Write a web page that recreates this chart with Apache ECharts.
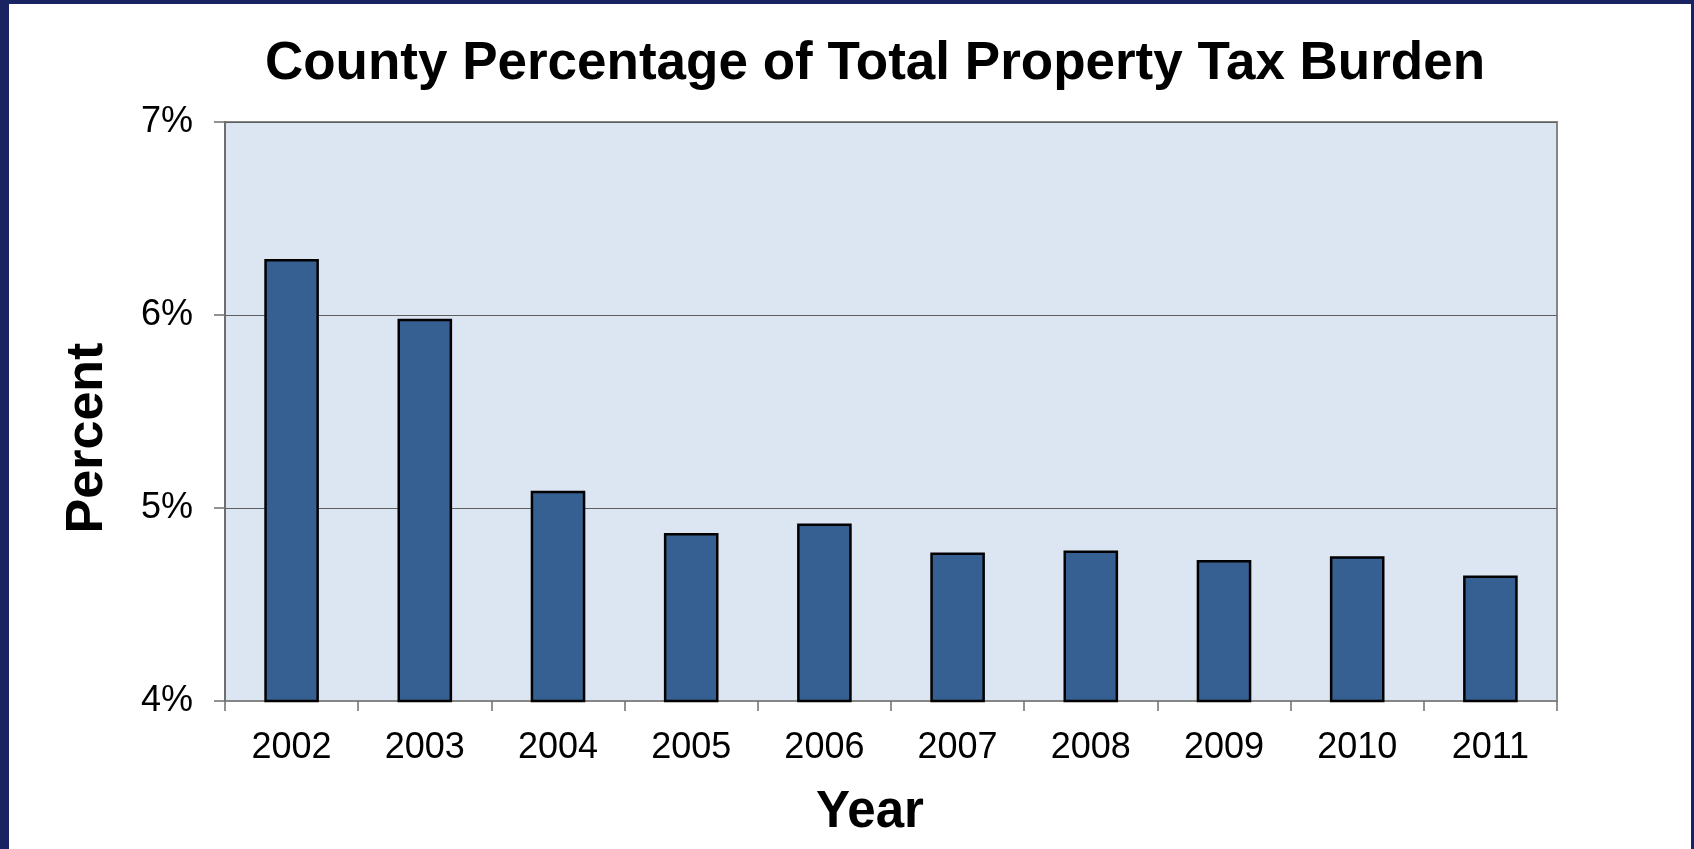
<!DOCTYPE html>
<html>
<head>
<meta charset="utf-8">
<script src="https://cdn.jsdelivr.net/npm/echarts@6/dist/echarts.min.js"></script>
<style>
  html, body { margin: 0; padding: 0; background: #ffffff; }
  #chart { position: absolute; left: 0; top: 0; width: 1694px; height: 849px; }
  .bd { position: absolute; background: #1a2361; pointer-events: none; }
</style>
</head>
<body>
<div id="chart"></div>
<div class="bd" style="left:0;top:0;width:9px;height:849px;"></div>
<div class="bd" style="left:0;top:0;width:1694px;height:4px;"></div>
<div class="bd" style="left:1691px;top:0;width:3px;height:849px;"></div>
<script>
const titleText = 'County Percentage of Total Property Tax Burden';
const xAxisTitle = 'Year';
const yAxisTitle = 'Percent';
const years = ['2002', '2003', '2004', '2005', '2006', '2007', '2008', '2009', '2010', '2011'];
const percentValues = [6.29, 5.98, 5.09, 4.87, 4.92, 4.77, 4.78, 4.73, 4.75, 4.65];
const yMin = 4;
const yMax = 7;
const yStep = 1;

const FONT = '"Liberation Sans", Arial, sans-serif';
const chart = echarts.init(document.getElementById('chart'), null, { renderer: 'canvas' });

chart.setOption({
  animation: false,
  backgroundColor: '#ffffff',
  grid: {
    left: 225, right: 137, top: 122, bottom: 148,
    show: true,
    backgroundColor: '#dce6f2',
    borderColor: '#868686',
    borderWidth: 2
  },
  xAxis: {
    type: 'category',
    data: years,
    boundaryGap: true,
    axisLine: { show: true, lineStyle: { color: '#868686', width: 2 } },
    axisTick: { show: true, length: 10, alignWithLabel: false, lineStyle: { color: '#6e6e6e', width: 1.5 } },
    axisLabel: { color: '#000000', fontFamily: FONT, fontSize: 36, margin: 29 },
    splitLine: { show: false }
  },
  yAxis: {
    type: 'value',
    min: yMin, max: yMax, interval: yStep,
    axisLine: { show: true, lineStyle: { color: '#6e6e6e', width: 2 } },
    axisTick: { show: true, length: 11, lineStyle: { color: '#6e6e6e', width: 1.5 } },
    axisLabel: {
      color: '#000000', fontFamily: FONT, fontSize: 36, margin: 32,
      formatter: function (v) { return v + '%'; }
    },
    splitLine: { show: true, lineStyle: { color: '#5f5f5f', width: 1.2 } }
  },
  series: [{
    type: 'bar',
    data: percentValues,
    barWidth: '41%',
    itemStyle: { color: '#376092', borderColor: '#000000', borderWidth: 2.5 }
  }],
  graphic: [
    {
      type: 'text', x: 875, y: 64,
      style: { text: titleText, fill: '#000', font: 'bold 53px ' + FONT, textAlign: 'center', textVerticalAlign: 'middle' }
    },
    {
      type: 'text', x: 870, y: 813,
      style: { text: xAxisTitle, fill: '#000', font: 'bold 51px ' + FONT, textAlign: 'center', textVerticalAlign: 'middle' }
    },
    {
      type: 'text', x: 88, y: 438, rotation: Math.PI / 2,
      style: { text: yAxisTitle, fill: '#000', font: 'bold 52px ' + FONT, textAlign: 'center', textVerticalAlign: 'middle' }
    }
  ]
});
</script>
</body>
</html>
